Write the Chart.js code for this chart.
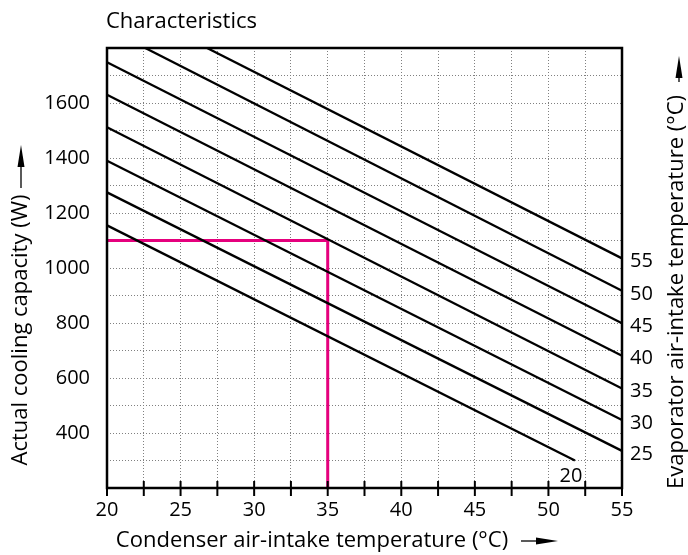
<!DOCTYPE html>
<html>
<head>
<meta charset="utf-8">
<script src="https://cdn.jsdelivr.net/npm/chart.js@4"></script>
<style>
html, body { margin: 0; padding: 0; background: #fff; }
#wrap { width: 688px; height: 555px; position: relative; }
</style>
</head>
<body>
<div id="wrap"><canvas id="chart"></canvas></div>
<script>
// evaporator air-intake temperature of each curve (deg C)
const evapTemps = [20, 25, 30, 35, 40, 45, 50, 55];
// start and end of each straight curve (condenser temp, capacity W)
const startX = [20, 20, 20, 20, 20, 20, 22.6, 26.8];
const startY = [1155, 1275, 1390, 1512, 1630, 1748, 1800, 1800];
const endX = [51.8, 55, 55, 55, 55, 55, 55, 55];
const endY = [300, 335, 447, 562, 681, 799, 917, 1035];

// example operating point
const opTemp = 35;
const opCapacity = 1100;

const titleText = 'Characteristics';
const xTitle = 'Condenser air-intake temperature (°C)';
const yTitle = 'Actual cooling capacity (W)';
const rightTitle = 'Evaporator air-intake temperature (°C)';

const FONT = '"Open Sans", sans-serif';

let datasets = evapTemps.map((t, i) => ({
  label: t + ' °C',
  data: [{x: startX[i], y: startY[i]}, {x: endX[i], y: endY[i]}],
  borderColor: '#000',
  borderWidth: 2.3,
  pointRadius: 0,
  showLine: true
}));

datasets.push({
  label: 'op-h',
  data: [{x: 20, y: opCapacity}, {x: opTemp, y: opCapacity}],
  borderColor: '#e5007d',
  borderWidth: 3,
  pointRadius: 0,
  showLine: true
});
datasets.push({
  label: 'op-v',
  data: [{x: opTemp, y: opCapacity}, {x: opTemp, y: 200}],
  borderColor: '#e5007d',
  borderWidth: 3,
  pointRadius: 0,
  showLine: true
});

function arrow(ctx, x1, y1, x2, y2) {
  // shaft from (x1,y1) to tip (x2,y2)
  const ang = Math.atan2(y2 - y1, x2 - x1);
  const len = 22, hw = 3.5;
  ctx.save();
  ctx.strokeStyle = '#000';
  ctx.fillStyle = '#000';
  ctx.lineWidth = 1.3;
  ctx.beginPath();
  ctx.moveTo(x1, y1);
  ctx.lineTo(x2 - Math.cos(ang) * len, y2 - Math.sin(ang) * len);
  ctx.stroke();
  ctx.translate(x2, y2);
  ctx.rotate(ang);
  ctx.beginPath();
  ctx.moveTo(0, 0);
  ctx.lineTo(-len, -hw);
  ctx.lineTo(-len, hw);
  ctx.closePath();
  ctx.fill();
  ctx.restore();
}

const decor = {
  id: 'decor',
  afterDatasetsDraw(chart) {
    const ctx = chart.ctx;
    const a = chart.chartArea;
    const xs = chart.scales.x, ys = chart.scales.y;
    ctx.save();
    // frame
    ctx.strokeStyle = '#000';
    ctx.lineWidth = 2.5;
    ctx.strokeRect(a.left, a.top, a.right - a.left, a.bottom - a.top);
    // tick marks on x axis
    ctx.lineWidth = 2;
    xs.ticks.forEach(t => {
      const px = xs.getPixelForValue(t.value);
      ctx.beginPath();
      ctx.moveTo(px, a.bottom - 7);
      ctx.lineTo(px, a.bottom + 8);
      ctx.stroke();
    });
    // curve labels
    ctx.fillStyle = '#000';
    ctx.font = '20px ' + FONT;
    ctx.textBaseline = 'middle';
    evapTemps.forEach((t, i) => {
      const px = xs.getPixelForValue(endX[i]);
      const py = ys.getPixelForValue(endY[i]);
      if (endX[i] >= 55) {
        ctx.textAlign = 'left';
        ctx.fillText(String(t), a.right + 8, py + 3);
      } else {
        ctx.textAlign = 'center';
        ctx.fillText(String(t), px - 4, py + 16);
      }
    });
    // title
    ctx.textAlign = 'left';
    ctx.textBaseline = 'alphabetic';
    ctx.font = '22px ' + FONT;
    ctx.fillText(titleText, 106, 28);
    // x title
    ctx.textAlign = 'center';
    ctx.textBaseline = 'middle';
    ctx.fillText(xTitle, 312, 541);
    arrow(ctx, 521, 541, 558, 541);
    // y title
    ctx.save();
    ctx.translate(21, 330);
    ctx.rotate(-Math.PI / 2);
    ctx.fillText(yTitle, 0, 0);
    ctx.restore();
    arrow(ctx, 21, 188, 21, 145);
    // right title
    ctx.save();
    ctx.translate(677, 292);
    ctx.rotate(-Math.PI / 2);
    ctx.fillText(rightTitle, 0, 0);
    ctx.restore();
    arrow(ctx, 679, 82, 679, 56);
    ctx.restore();
  }
};

new Chart(document.getElementById('chart'), {
  type: 'scatter',
  data: { datasets: datasets },
  plugins: [decor],
  options: {
    responsive: true,
    maintainAspectRatio: false,
    animation: false,
    layout: { padding: { left: 0, right: 66, top: 48, bottom: 0 } },
    plugins: {
      legend: { display: false },
      tooltip: { enabled: false },
      title: { display: false }
    },
    scales: {
      x: {
        type: 'linear',
        min: 20,
        max: 55,
        afterFit: s => { s.height = 67; },
        ticks: {
          stepSize: 2.5,
          autoSkip: false,
          maxRotation: 0,
          padding: 10,
          color: '#000',
          font: { family: FONT, size: 20 },
          callback: v => (v % 5 === 0 ? String(v) : '')
        },
        grid: { color: '#808080', lineWidth: 1, drawTicks: false },
        border: { display: false, dash: [1, 2] }
      },
      y: {
        type: 'linear',
        min: 200,
        max: 1800,
        afterFit: s => { s.width = 107; },
        ticks: {
          stepSize: 100,
          autoSkip: false,
          padding: 17,
          color: '#000',
          font: { family: FONT, size: 20 },
          callback: v => (v % 200 === 0 && v >= 400 && v <= 1600 ? String(v) : '')
        },
        grid: { color: '#808080', lineWidth: 1, drawTicks: false },
        border: { display: false, dash: [1, 2] }
      }
    }
  }
});
</script>
</body>
</html>
